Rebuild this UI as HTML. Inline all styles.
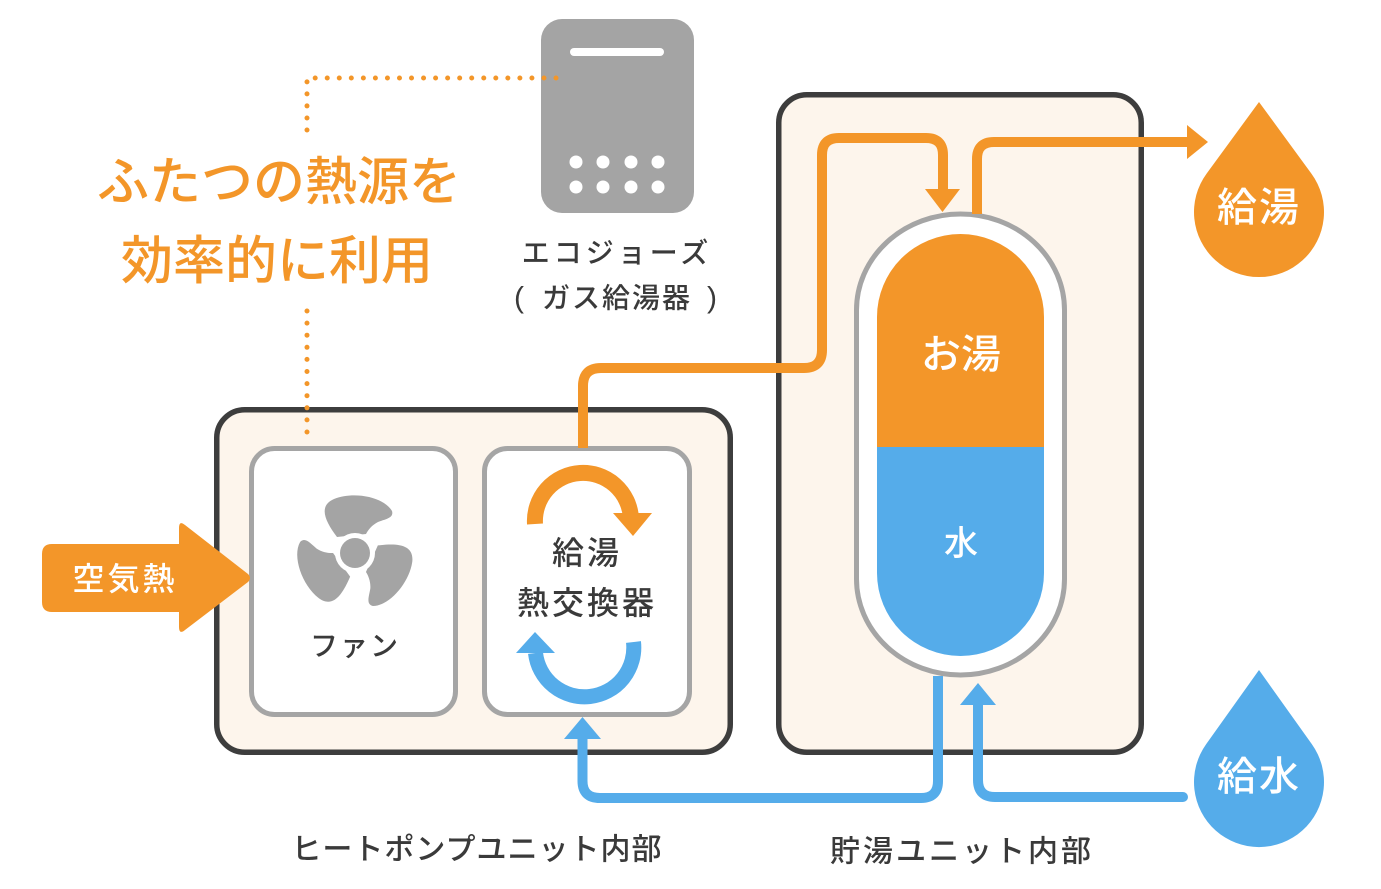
<!DOCTYPE html>
<html><head><meta charset="utf-8"><style>
html,body{margin:0;padding:0;background:#fff;}
svg{display:block;}
text{font-family:"Liberation Sans","Noto Sans CJK JP",sans-serif;font-weight:500;}
</style></head><body>
<svg width="1381" height="889" viewBox="0 0 1381 889" xmlns="http://www.w3.org/2000/svg">
<!-- Gas heater -->
<rect x="541" y="19" width="153" height="194" rx="21" fill="#a4a4a4"/>
<rect x="570" y="48" width="94" height="8" rx="4" fill="#fff"/>
<g fill="#fff">
<circle cx="576" cy="162" r="6.5"/><circle cx="603" cy="162" r="6.5"/><circle cx="631" cy="162" r="6.5"/><circle cx="658" cy="162" r="6.5"/>
<circle cx="576" cy="187" r="6.5"/><circle cx="603" cy="187" r="6.5"/><circle cx="631" cy="187" r="6.5"/><circle cx="658" cy="187" r="6.5"/>
</g>
<text x="617" y="253" font-size="28" fill="#3a3a3a" text-anchor="middle" dominant-baseline="central" letter-spacing="4">エコジョーズ</text>
<text x="519" y="298" font-size="30" fill="#3a3a3a" text-anchor="middle" dominant-baseline="central">(</text>
<text x="617" y="298" font-size="28" fill="#3a3a3a" text-anchor="middle" dominant-baseline="central" letter-spacing="2">ガス給湯器</text>
<text x="712" y="298" font-size="30" fill="#3a3a3a" text-anchor="middle" dominant-baseline="central">)</text>

<!-- Title -->
<text x="279" y="183" font-size="52" fill="#f39629" text-anchor="middle" dominant-baseline="central">ふたつの熱源を</text>
<text x="277" y="262" font-size="52" fill="#f39629" text-anchor="middle" dominant-baseline="central">効率的に利用</text>

<!-- Heat pump box -->
<rect x="216.75" y="409.75" width="513.5" height="342.5" rx="28" fill="#fdf5ec" stroke="#3d3d3d" stroke-width="5.5"/>
<!-- Storage box -->
<rect x="778.75" y="94.75" width="362.5" height="657.5" rx="28" fill="#fdf5ec" stroke="#3d3d3d" stroke-width="5.5"/>

<!-- Fan box -->
<rect x="251.5" y="448.5" width="204" height="266" rx="23" fill="#fff" stroke="#a5a5a5" stroke-width="5"/>
<!-- HX box -->
<rect x="484.5" y="448.5" width="205" height="266" rx="23" fill="#fff" stroke="#a5a5a5" stroke-width="5"/>

<!-- Fan icon -->
<g fill="#a4a4a4">
<path d="M337 537 C 325 521, 318 506, 334 499 C 354 491, 384 497, 392 511 C 394 518, 386 519, 378 522 C 372 525, 368 530, 366 534 Z"/>
<g transform="rotate(120 355 553)"><path d="M337 537 C 325 521, 318 506, 334 499 C 354 491, 384 497, 392 511 C 394 518, 386 519, 378 522 C 372 525, 368 530, 366 534 Z"/></g>
<g transform="rotate(240 355 553)"><path d="M337 537 C 325 521, 318 506, 334 499 C 354 491, 384 497, 392 511 C 394 518, 386 519, 378 522 C 372 525, 368 530, 366 534 Z"/></g>
<circle cx="355" cy="553" r="20" fill="#fff"/>
<circle cx="355" cy="553" r="15" fill="#a4a4a4"/>
</g>
<text x="355" y="646" font-size="28" fill="#3a3a3a" text-anchor="middle" dominant-baseline="central" letter-spacing="2">ファン</text>

<!-- HX arrows -->
<path d="M535 524 A 48 48 0 0 1 631 518" fill="none" stroke="#f39629" stroke-width="16"/>
<polygon points="613,513 652,513 633,536" fill="#f39629"/>
<path d="M633.5 642 A 49 49 0 0 1 535.5 653" fill="none" stroke="#55acea" stroke-width="15"/>
<polygon points="516,653 555,653 535,632" fill="#55acea"/>
<text x="587" y="553" font-size="32" fill="#3a3a3a" text-anchor="middle" dominant-baseline="central" letter-spacing="3">給湯</text>
<text x="587" y="603" font-size="32" fill="#3a3a3a" text-anchor="middle" dominant-baseline="central" letter-spacing="3">熱交換器</text>

<!-- Tank -->
<path d="M856.5 310 A 104 96 0 0 1 1064.5 310 V 579 A 104 96 0 0 1 856.5 579 Z" fill="#fff" stroke="#a5a5a5" stroke-width="5"/>
<path d="M877 447.5 V 317 A 83.5 83 0 0 1 1044 317 V 447.5 Z" fill="#f39629"/>
<path d="M877 447 H 1044 V 573 A 83.5 83 0 0 1 877 573 Z" fill="#55acea"/>
<text x="961" y="355" font-size="40" fill="#fff" text-anchor="middle" dominant-baseline="central">お湯</text>
<text x="961" y="544" font-size="34" fill="#fff" text-anchor="middle" dominant-baseline="central">水</text>

<!-- Orange pipes -->
<path d="M583 448 V 386 Q 583 368 601 368 H 804 Q 822 368 822 350 V 155 Q 822 138 839 138 H 926 Q 943 138 943 155 V 191" fill="none" stroke="#f39629" stroke-width="10"/>
<polygon points="925,189 960,189 942.5,212" fill="#f39629"/>
<path d="M977 214 V 159 Q 977 142 994 142 H 1189" fill="none" stroke="#f39629" stroke-width="10"/>
<polygon points="1187,125 1208,142 1187,159" fill="#f39629"/>

<!-- Blue pipes -->
<path d="M938 676 V 781 Q 938 798 921 798 H 600 Q 582.5 798 582.5 781 V 737" fill="none" stroke="#55acea" stroke-width="10"/>
<polygon points="564,739 601,739 582.5,717" fill="#55acea"/>
<path d="M1183 797 H 995 Q 978 797 978 780 V 703" fill="none" stroke="#55acea" stroke-width="10" stroke-linecap="round"/>
<polygon points="960,705 996,705 978,683" fill="#55acea"/>

<!-- Dotted lines -->
<path d="M307 130 V 78 H 568" fill="none" stroke="#f39629" stroke-width="5" stroke-linecap="round" stroke-dasharray="0 12.04"/>
<path d="M307 311 V 432" fill="none" stroke="#f39629" stroke-width="5" stroke-linecap="round" stroke-dasharray="0 12.1"/>

<!-- Air heat arrow -->
<path d="M52 544 L 179 544 L 179 528 Q 179 520 185 525 L 248 574 Q 252 578 248 582 L 185 630 Q 179 635 179 627 L 179 612 L 52 612 Q 42 612 42 602 L 42 554 Q 42 544 52 544 Z" fill="#f39629"/>
<text x="125" y="579" font-size="32" fill="#fff" text-anchor="middle" dominant-baseline="central" letter-spacing="3">空気熱</text>

<!-- Drops -->
<path d="M1259 102 L 1311.4 173.6 A 65 65 0 1 1 1206.6 173.6 Z" fill="#f39629"/>
<text x="1259" y="208" font-size="40" fill="#fff" text-anchor="middle" dominant-baseline="central" letter-spacing="2">給湯</text>
<path d="M1259 670 L 1311.9 744.3 A 65 65 0 1 1 1206.1 744.3 Z" fill="#55acea"/>
<text x="1259" y="777" font-size="40" fill="#fff" text-anchor="middle" dominant-baseline="central" letter-spacing="2">給水</text>

<!-- Bottom labels -->
<text x="477" y="850" font-size="30" fill="#3a3a3a" text-anchor="middle" dominant-baseline="central" letter-spacing="1">ヒートポンプユニット内部</text>
<text x="962" y="852" font-size="30" fill="#3a3a3a" text-anchor="middle" dominant-baseline="central" letter-spacing="3">貯湯ユニット内部</text>
</svg>
</body></html>
